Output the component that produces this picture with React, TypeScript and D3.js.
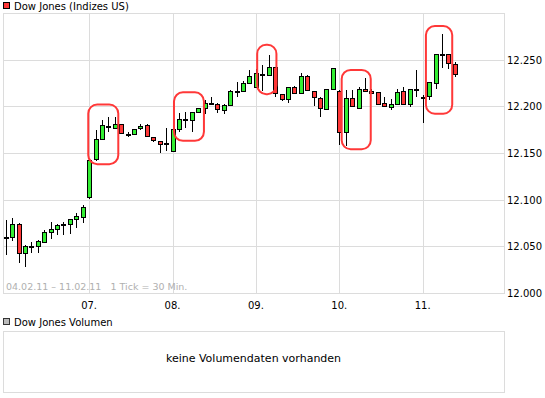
import React from 'react';
import * as d3 from 'd3';

// half-hour candles, Fri 04.02. to Fri 11.02.
const opens = [
  12060, 12060, 12074, 12043, 12050, 12050, 12055, 12065, 12069, 12073, 12074, 12079, 12081,
  12103, 12144, 12165, 12179, 12177, 12181, 12170, 12170, 12177, 12180, 12167, 12163, 12161,
  12152, 12176, 12186, 12185, 12194, 12198, 12204, 12203, 12196, 12201, 12216, 12216, 12225,
  12221, 12235, 12234, 12242, 12213, 12208, 12221, 12214, 12232, 12216, 12209, 12197, 12219,
  12216, 12173, 12209, 12198, 12219, 12216, 12215, 12204, 12199, 12203, 12216, 12203, 12219,
  12210, 12211, 12225, 12256, 12256, 12245,
];
const highs = [
  12078, 12080, 12075, 12051, 12055, 12057, 12068, 12076, 12074, 12076, 12079, 12086, 12094,
  12143, 12175, 12185, 12189, 12189, 12181, 12172, 12176, 12181, 12181, 12167, 12163, 12177,
  12176, 12193, 12194, 12194, 12198, 12207, 12210, 12204, 12203, 12217, 12226, 12227, 12239,
  12240, 12244, 12255, 12242, 12213, 12221, 12222, 12236, 12234, 12216, 12210, 12219, 12241,
  12217, 12217, 12217, 12221, 12230, 12219, 12215, 12210, 12208, 12219, 12221, 12219, 12239,
  12212, 12226, 12256, 12277, 12256, 12247,
];
const lows = [
  12041, 12056, 12032, 12028, 12043, 12043, 12055, 12058, 12062, 12062, 12063, 12070, 12075,
  12101, 12141, 12164, 12173, 12177, 12170, 12167, 12169, 12175, 12168, 12162, 12150, 12152,
  12152, 12173, 12177, 12173, 12193, 12192, 12201, 12193, 12192, 12201, 12210, 12215, 12224,
  12220, 12216, 12234, 12210, 12206, 12204, 12213, 12214, 12217, 12200, 12189, 12196, 12219,
  12159, 12157, 12199, 12198, 12215, 12213, 12202, 12199, 12196, 12202, 12201, 12199, 12210,
  12182, 12207, 12219, 12241, 12240, 12231,
];
const closes = [
  12060, 12074, 12043, 12050, 12050, 12056, 12065, 12069, 12073, 12074, 12079, 12082, 12092,
  12142, 12165, 12180, 12178, 12181, 12171, 12170, 12176, 12179, 12168, 12164, 12160, 12161,
  12176, 12186, 12186, 12194, 12198, 12204, 12204, 12197, 12201, 12216, 12216, 12225, 12233,
  12236, 12235, 12242, 12214, 12208, 12221, 12214, 12232, 12218, 12210, 12198, 12219, 12241,
  12172, 12209, 12200, 12219, 12216, 12214, 12203, 12200, 12203, 12215, 12203, 12219, 12219,
  12210, 12226, 12256, 12256, 12246, 12235,
];

const dayLabels = ['07.', '08.', '09.', '10.', '11.'];
const slotsPerDay = 13;
const yTicks = [12000, 12050, 12100, 12150, 12200, 12250];

// red marker boxes (slot range, price range)
const markFrom = [12.87, 26.23, 39.2, 52.37, 65.5];
const markTo = [17.55, 30.9, 42.2, 56.9, 69.6];
const markLow = [12138, 12163, 12213, 12154, 12192];
const markHigh = [12202, 12215, 12266, 12239, 12286];

const W = 545;
const H = 398;
const font = '"DejaVu Sans", Verdana, sans-serif';
const grid = '#dcdcdc';
const green = '#33ee33';
const red = '#ff3838';

const fmt = d3.formatLocale({ decimal: ',', thousands: '.', grouping: [3], currency: ['', ''] }).format(',');

export default function App() {
  const x = d3.scaleLinear().domain([-0.42, 77.67]).range([3, 504]);
  const y = d3.scaleLinear().domain([12000, 12300]).range([293, 13]);
  const [x0, x1] = x.range();
  const [yb, yt] = y.range();
  const px = (v: number) => Math.round(v) + 0.5;

  return (
    <svg width={W} height={H} style={{ position: 'absolute', left: 0, top: 0, background: '#fff' }}
      fontFamily={font}>
      {/* legend */}
      <rect x={3.5} y={2.5} width={6} height={6} fill={red} stroke="#000" />
      <text x={14} y={9.5} fontSize={10} fill="#000">Dow Jones (Indizes US)</text>

      {/* grid */}
      {yTicks.filter(v => v > 12000).map(v => (
        <line key={'h' + v} x1={x0} x2={x1} y1={px(y(v))} y2={px(y(v))} stroke={grid} />
      ))}
      {dayLabels.map((d, k) => (
        <line key={'v' + d} x1={px(x((k + 1) * slotsPerDay))} x2={px(x((k + 1) * slotsPerDay))}
          y1={yt} y2={yb} stroke={grid} />
      ))}
      <rect x={x0 + 0.5} y={yt + 0.5} width={x1 - x0} height={yb - yt} fill="none" stroke={grid} />

      <text x={6} y={290} fontSize={9.5} fill="#b0b0b0" xmlSpace="preserve">04.02.11 – 11.02.11   1 Tick = 30 Min.</text>

      {/* candles */}
      {opens.map((o, i) => {
        const c = closes[i];
        const cx = Math.round(x(i));
        const top = Math.round(y(Math.max(o, c)));
        const bot = Math.round(y(Math.min(o, c)));
        return (
          <g key={i}>
            <line x1={cx + 0.5} x2={cx + 0.5} y1={Math.round(y(highs[i]))} y2={Math.round(y(lows[i]))}
              stroke="#000" />
            <rect x={cx - 1.5} y={top + 0.5} width={4} height={Math.max(bot - top, 1)}
              fill={c >= o ? green : red} stroke="#000" />
          </g>
        );
      })}

      {/* markers */}
      {markFrom.map((f, k) => (
        <rect key={'m' + k} x={x(f)} y={y(markHigh[k])} width={x(markTo[k]) - x(f)}
          height={y(markLow[k]) - y(markHigh[k])} rx={9} ry={9}
          fill="none" stroke={red} strokeWidth={2} />
      ))}

      {/* axes labels */}
      {yTicks.map(v => (
        <text key={'yl' + v} x={507} y={y(v) + 4} fontSize={10} fill="#000">{fmt(v)}</text>
      ))}
      {dayLabels.map((d, k) => (
        <text key={'xl' + d} x={x((k + 1) * slotsPerDay)} y={309} fontSize={10} fill="#000"
          textAnchor="middle">{d}</text>
      ))}

      {/* volume panel */}
      <rect x={3.5} y={318.5} width={6} height={6} fill="#bbbbbb" stroke="#333" />
      <text x={14} y={325.5} fontSize={10} fill="#000">Dow Jones Volumen</text>
      <rect x={x0 + 0.5} y={331.5} width={x1 - x0} height={61} fill="none" stroke={grid} />
      <text x={(x0 + x1) / 2} y={362} fontSize={11} fill="#000" textAnchor="middle">keine Volumendaten vorhanden</text>
    </svg>
  );
}
